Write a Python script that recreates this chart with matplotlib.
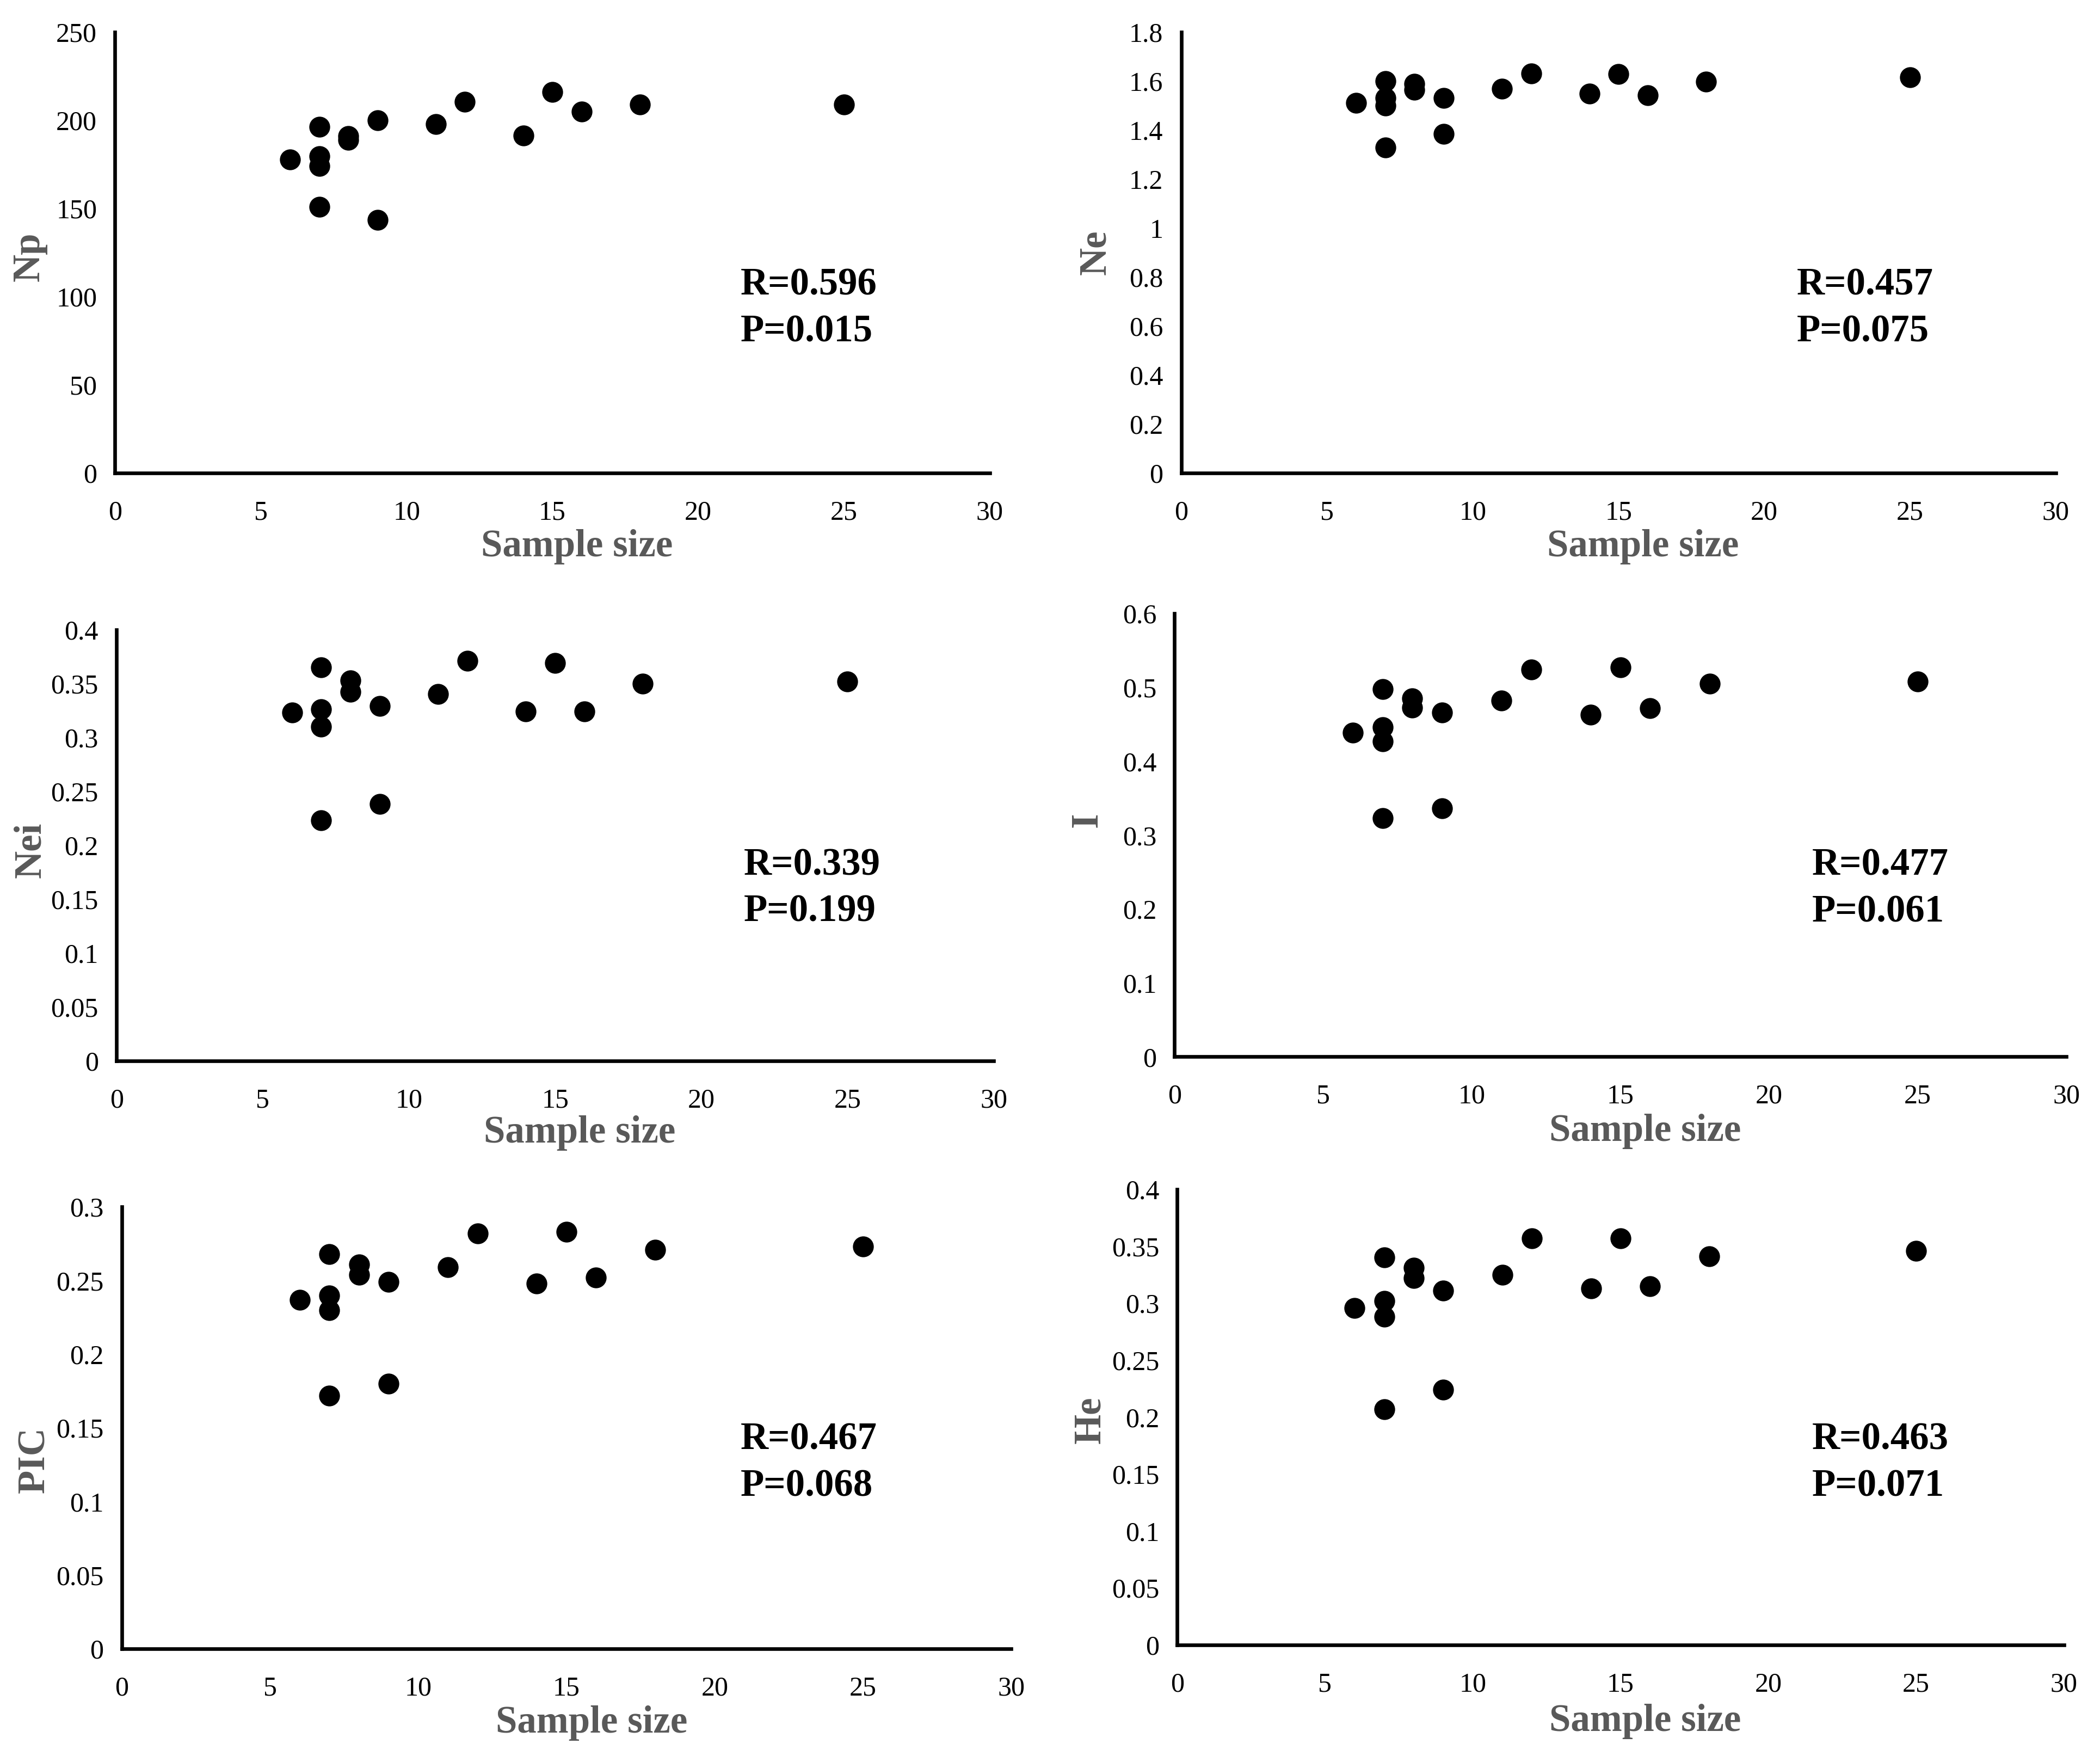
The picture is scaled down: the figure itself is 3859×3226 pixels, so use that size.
import matplotlib
matplotlib.use("Agg")
import matplotlib.pyplot as plt
from matplotlib.ticker import FuncFormatter, MultipleLocator

plt.rcParams["font.family"] = ["Liberation Serif", "DejaVu Serif"]

# sample size of each population (x axis, same for all panels)
sample_size = [6, 7, 7, 7, 7, 8, 8, 9, 9, 11, 12, 14, 15, 16, 18, 25]

# genetic diversity values
np_vals = [177.7, 196.3, 179.5, 174.1, 151.0, 191.0, 189.0, 199.9, 143.4,
           197.8, 210.6, 191.5, 215.9, 204.9, 208.8, 208.8]
ne_vals = [1.510, 1.600, 1.532, 1.500, 1.328, 1.589, 1.564, 1.532, 1.385,
           1.568, 1.631, 1.549, 1.628, 1.542, 1.597, 1.615]
nei_vals = [0.323, 0.365, 0.326, 0.310, 0.223, 0.353, 0.342, 0.329, 0.238,
            0.340, 0.371, 0.324, 0.369, 0.324, 0.350, 0.352]
i_vals = [0.439, 0.498, 0.446, 0.427, 0.323, 0.485, 0.473, 0.466, 0.336,
          0.482, 0.524, 0.463, 0.527, 0.472, 0.505, 0.508]
pic_vals = [0.237, 0.268, 0.240, 0.230, 0.172, 0.261, 0.254, 0.249, 0.180,
            0.259, 0.282, 0.248, 0.283, 0.252, 0.271, 0.273]
he_vals = [0.296, 0.340, 0.302, 0.288, 0.207, 0.331, 0.322, 0.311, 0.224,
           0.325, 0.357, 0.313, 0.357, 0.315, 0.341, 0.346]

labels = ["Np", "Ne", "Nei", "I", "PIC", "He"]
r_vals = ["0.596", "0.457", "0.339", "0.477", "0.467", "0.463"]
p_vals = ["0.015", "0.075", "0.199", "0.061", "0.068", "0.071"]
y_max = [250, 1.8, 0.4, 0.6, 0.3, 0.4]
y_step = [50, 0.2, 0.05, 0.1, 0.05, 0.05]

series = [np_vals, ne_vals, nei_vals, i_vals, pic_vals, he_vals]

# axes boxes [left, bottom, width, height] in figure fractions
boxes = [
    [0.0548, 0.7307, 0.4165, 0.2510],
    [0.5625, 0.7307, 0.4165, 0.2510],
    [0.0555, 0.3959, 0.4177, 0.2456],
    [0.5593, 0.3982, 0.4247, 0.2524],
    [0.0580, 0.0610, 0.4235, 0.2517],
    [0.5606, 0.0633, 0.4222, 0.2594],
]
ylab_y = [0.49, 0.50, 0.488, 0.535, 0.427, 0.494]
text_x = [0.715, 0.704, 0.715, 0.715, 0.696, 0.716]
text_y = [0.4255, 0.4255, 0.453, 0.432, 0.473, 0.45]
text_dy = [0.106, 0.106, 0.108, 0.106, 0.106, 0.103]

fig = plt.figure(figsize=(3859 / 300, 3226 / 300), dpi=300)

fmt = FuncFormatter(lambda v, pos: f"{round(v, 3):g}")

for k in range(6):
    ax = fig.add_axes(boxes[k])
    ax.plot(sample_size, series[k], "o", color="black", markersize=8.2,
            linestyle="none")
    ax.set_xlim(0, 30)
    ax.set_ylim(0, y_max[k])
    ax.xaxis.set_major_locator(MultipleLocator(5))
    ax.yaxis.set_major_locator(MultipleLocator(y_step[k]))
    ax.yaxis.set_major_formatter(fmt)
    ax.tick_params(length=0, labelsize=12, colors="black")
    ax.tick_params(axis="y", pad=8)
    ax.tick_params(axis="x", pad=12)
    for s in ["top", "right"]:
        ax.spines[s].set_visible(False)
    for s in ["left", "bottom"]:
        ax.spines[s].set_linewidth(1.6)
        ax.spines[s].set_color("black")

    ax.text(0.528, -0.168, "Sample size", transform=ax.transAxes,
            ha="center", va="center", fontsize=17, fontweight="bold",
            color="#595959")
    ax.text(-0.098, ylab_y[k], labels[k], transform=ax.transAxes,
            ha="center", va="center", rotation=90, fontsize=17,
            fontweight="bold", color="#595959")

    ax.text(text_x[k], text_y[k], "R=" + r_vals[k], transform=ax.transAxes,
            ha="left", va="center", fontsize=17, fontweight="bold")
    ax.text(text_x[k], text_y[k] - text_dy[k], "P=" + p_vals[k],
            transform=ax.transAxes, ha="left", va="center", fontsize=17,
            fontweight="bold")

fig.savefig("out.png", dpi=300, facecolor="white")
